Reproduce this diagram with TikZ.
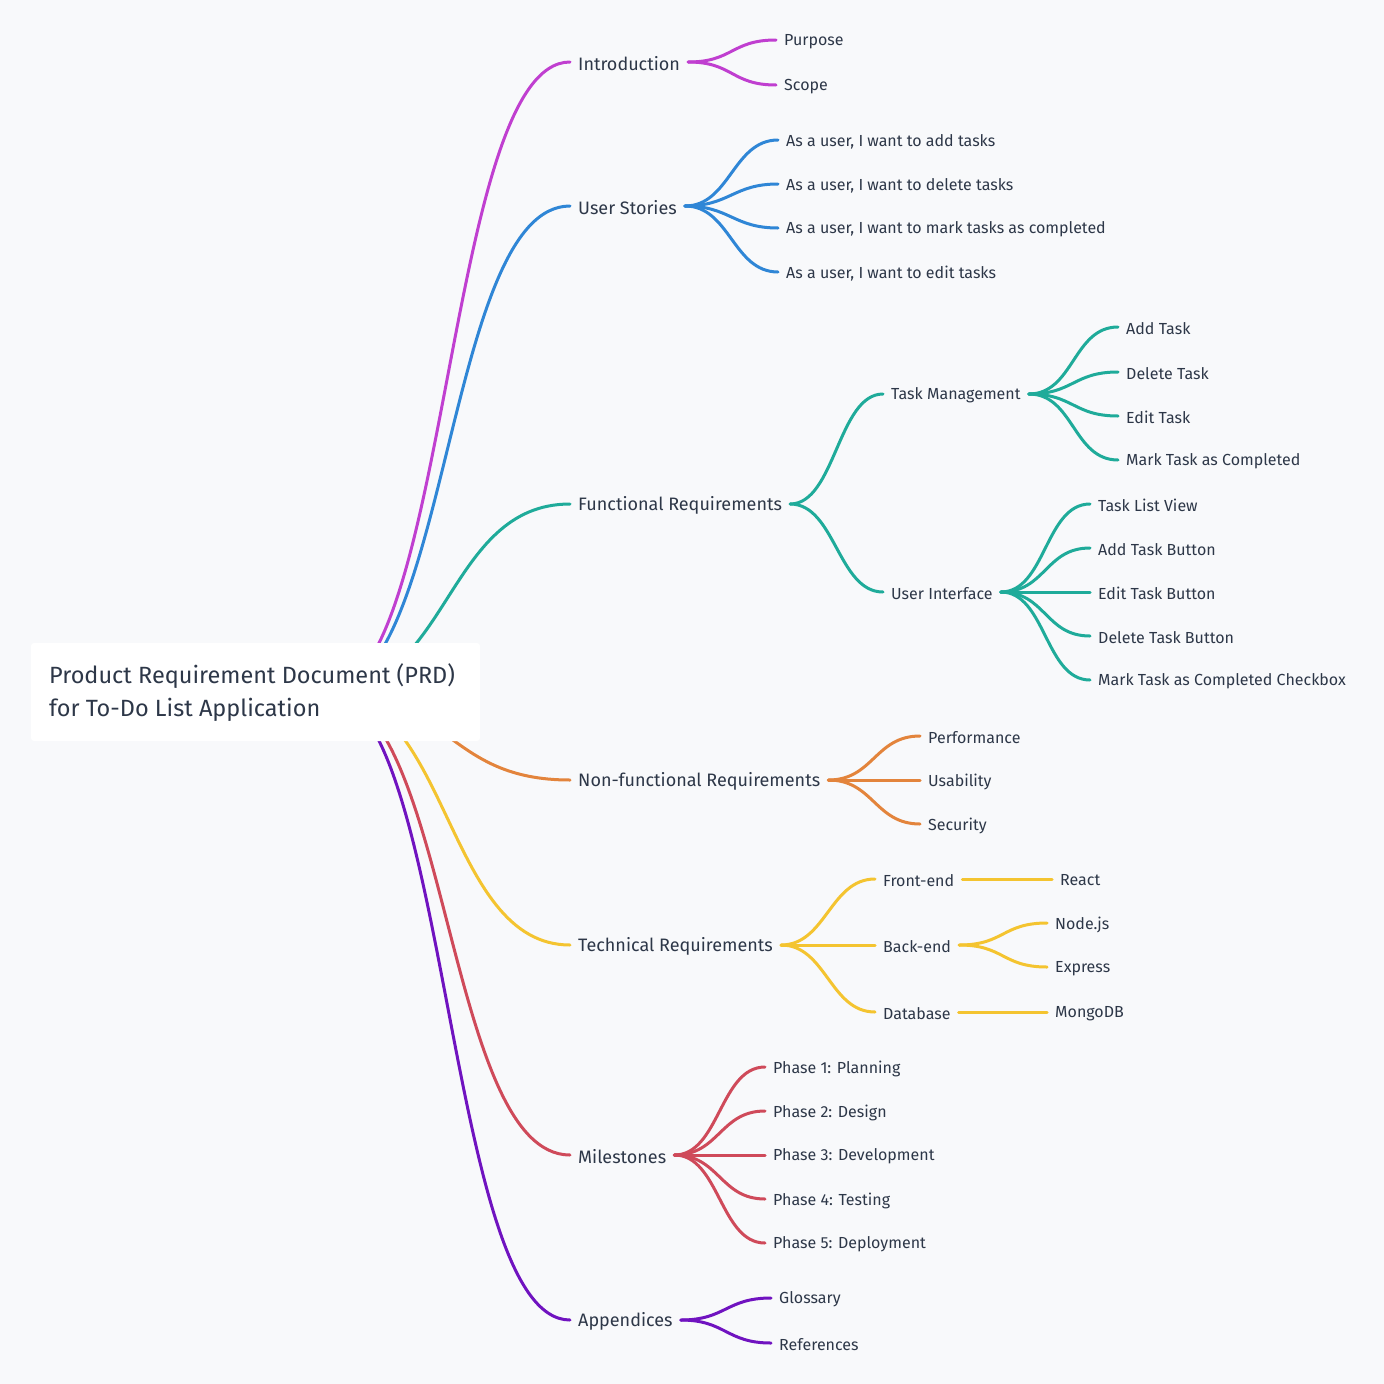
\documentclass[tikz,border=0pt]{standalone}
\usepackage{fontspec}
\setmainfont{Fira Sans}
\begin{document}
\begin{tikzpicture}[x=1pt,y=-1pt,
  l1/.style={anchor=west,inner xsep=8pt,inner ysep=0pt,yshift=-1.5pt,font=\fontsize{18}{20}\selectfont,text=txt},
  l2/.style={anchor=west,inner xsep=8pt,inner ysep=0pt,yshift=-1.5pt,font=\fontsize{16}{18}\selectfont,text=txt},
  br/.style={line width=3pt,line cap=round},
  ]
\definecolor{bg}{HTML}{F8F9FB}
\definecolor{txt}{HTML}{2D3748}
\definecolor{cA}{HTML}{C03FD0}
\definecolor{cB}{HTML}{2F86D6}
\definecolor{cC}{HTML}{1FAB9A}
\definecolor{cD}{HTML}{E3843C}
\definecolor{cE}{HTML}{F4C430}
\definecolor{cF}{HTML}{CF4A5A}
\definecolor{cG}{HTML}{7013C0}
\fill[bg] (0,0) rectangle (1384,1384);
\useasboundingbox (0,0) rectangle (1384,1384);
\coordinate (root) at (325,692);
% level 1
\node[l1] (intro) at (570,62) {Introduction};
\node[l1] (us) at (570,206) {User Stories};
\node[l1] (fr) at (570,504) {Functional Requirements};
\node[l1] (nfr) at (570,780) {Non-functional Requirements};
\node[l1] (tr) at (570,945) {Technical Requirements};
\node[l1] (ms) at (570,1155) {Milestones};
\node[l1] (ap) at (570,1320) {Appendices};
\foreach \n/\c in {intro/cA,us/cB,fr/cC,nfr/cD,tr/cE,ms/cF,ap/cG}
  \draw[br,\c] (root) .. controls +(125,0) and +(-125,0) .. ([yshift=1.5pt]\n.west);
% root box
\node[fill=white,rounded corners=3pt,minimum width=449pt,minimum height=98pt,inner sep=0pt] (rootbox) at (255.5,692) {};
\node[anchor=west,align=left,inner sep=0pt,font=\fontsize{23.5}{33}\selectfont,text=txt] (roottext) at (49,693) {Product Requirement Document (PRD)\\for To-Do List Application};
% Introduction
\node[l2] (i1) at (776,40) {Purpose};
\node[l2] (i2) at (776,85) {Scope};
\foreach \n in {i1,i2} \draw[br,cA] ([yshift=1.5pt]intro.east) .. controls +(45,0) and +(-45,0) .. ([yshift=1.5pt]\n.west);
% User stories
\node[l2] (u1) at (778,140) {As a user, I want to add tasks};
\node[l2] (u2) at (778,184) {As a user, I want to delete tasks};
\node[l2] (u3) at (778,228) {As a user, I want to mark tasks as completed};
\node[l2] (u4) at (778,272) {As a user, I want to edit tasks};
\foreach \n in {u1,u2,u3,u4} \draw[br,cB] ([yshift=1.5pt]us.east) .. controls +(45,0) and +(-45,0) .. ([yshift=1.5pt]\n.west);
% Functional
\node[l2] (tm) at (883,394) {Task Management};
\node[l2] (ui) at (883,592) {User Interface};
\foreach \n in {tm,ui} \draw[br,cC] ([yshift=1.5pt]fr.east) .. controls +(45,0) and +(-45,0) .. ([yshift=1.5pt]\n.west);
\node[l2] (t1) at (1118,327) {Add Task};
\node[l2] (t2) at (1118,372) {Delete Task};
\node[l2] (t3) at (1118,416) {Edit Task};
\node[l2] (t4) at (1118,460) {Mark Task as Completed};
\foreach \n in {t1,t2,t3,t4} \draw[br,cC] ([yshift=1.5pt]tm.east) .. controls +(45,0) and +(-45,0) .. ([yshift=1.5pt]\n.west);
\node[l2] (v1) at (1090,504) {Task List View};
\node[l2] (v2) at (1090,548) {Add Task Button};
\node[l2] (v3) at (1090,592) {Edit Task Button};
\node[l2] (v4) at (1090,636) {Delete Task Button};
\node[l2] (v5) at (1090,680) {Mark Task as Completed Checkbox};
\foreach \n in {v1,v2,v3,v4,v5} \draw[br,cC] ([yshift=1.5pt]ui.east) .. controls +(45,0) and +(-45,0) .. ([yshift=1.5pt]\n.west);
% Non-functional
\node[l2] (n1) at (920,736) {Performance};
\node[l2] (n2) at (920,780) {Usability};
\node[l2] (n3) at (920,824) {Security};
\foreach \n in {n1,n2,n3} \draw[br,cD] ([yshift=1.5pt]nfr.east) .. controls +(45,0) and +(-45,0) .. ([yshift=1.5pt]\n.west);
% Technical
\node[l2] (fe) at (875,879) {Front-end};
\node[l2] (be) at (875,945) {Back-end};
\node[l2] (db) at (875,1012) {Database};
\foreach \n in {fe,be,db} \draw[br,cE] ([yshift=1.5pt]tr.east) .. controls +(45,0) and +(-45,0) .. ([yshift=1.5pt]\n.west);
\node[l2] (re) at (1052,879) {React};
\node[l2] (nj) at (1047,923) {Node.js};
\node[l2] (ex) at (1047,967) {Express};
\node[l2] (mo) at (1047,1012) {MongoDB};
\draw[br,cE] ([yshift=1.5pt]fe.east) -- ([yshift=1.5pt]re.west);
\draw[br,cE] ([yshift=1.5pt]db.east) -- ([yshift=1.5pt]mo.west);
\foreach \n in {nj,ex} \draw[br,cE] ([yshift=1.5pt]be.east) .. controls +(45,0) and +(-45,0) .. ([yshift=1.5pt]\n.west);
% Milestones
\node[l2] (m1) at (765,1067) {Phase 1: Planning};
\node[l2] (m2) at (765,1111) {Phase 2: Design};
\node[l2] (m3) at (765,1155) {Phase 3: Development};
\node[l2] (m4) at (765,1199) {Phase 4: Testing};
\node[l2] (m5) at (765,1243) {Phase 5: Deployment};
\foreach \n in {m1,m2,m3,m4,m5} \draw[br,cF] ([yshift=1.5pt]ms.east) .. controls +(45,0) and +(-45,0) .. ([yshift=1.5pt]\n.west);
% Appendices
\node[l2] (a1) at (771,1298) {Glossary};
\node[l2] (a2) at (771,1343) {References};
\foreach \n in {a1,a2} \draw[br,cG] ([yshift=1.5pt]ap.east) .. controls +(45,0) and +(-45,0) .. ([yshift=1.5pt]\n.west);
\end{tikzpicture}
\end{document}
